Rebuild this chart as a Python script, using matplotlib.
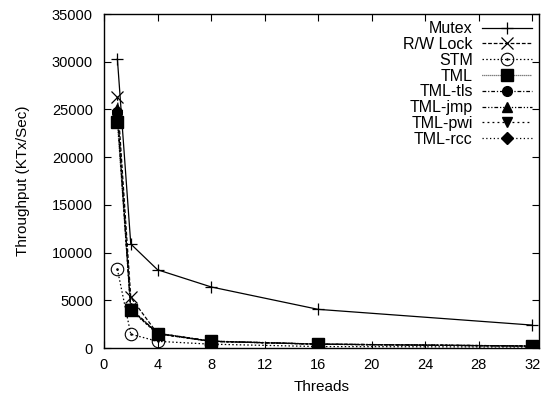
import matplotlib.pyplot as plt
import numpy as np
from matplotlib.path import Path

plt.rcParams['font.family'] = ['Liberation Sans', 'DejaVu Sans']
plt.rcParams['font.size'] = 10.5

threads = [1, 2, 4, 8, 16, 32]

mutex = [30300, 10900, 8200, 6400, 4050, 2400]
rwlock = [26300, 5300, 1500, 700, 400, 200]
stm = [8250, 1450, 700, 400, 150, 100]
tml = [23700, 4000, 1500, 700, 400, 200]
tml_tls = [24700, 4100, 1550, 720, 410, 210]
tml_jmp = [25000, 4150, 1550, 720, 410, 210]
tml_pwi = [24400, 4050, 1500, 700, 400, 200]
tml_rcc = [24200, 3950, 1480, 690, 390, 200]

# open circle with a dot in the middle (gnuplot style)
ring = Path.unit_circle()
dot = Path(Path.unit_circle().vertices * 0.12, Path.unit_circle().codes)
odot = Path.make_compound_path(ring, dot)

fig = plt.figure(figsize=(5.5, 3.98), dpi=100)
ax = fig.add_axes([104/550, 1-348/398, 435/550, 334/398])

lw = 0.9
ax.plot(threads, mutex, color='black', lw=lw, ls='-', marker='+', ms=9, mew=0.9, label='Mutex')
ax.plot(threads, rwlock, color='black', lw=lw, ls=(0, (3, 1.5)), marker='x', ms=8, mew=0.9, label='R/W Lock')
ax.plot(threads, stm, color='black', lw=lw, ls=(0, (1.2, 1.8)), marker=odot, ms=9, mew=0.8,
        mfc='none', label='STM')
ax.plot(threads, tml, color='black', lw=lw, ls=(0, (0.6, 1.0)), marker='s', ms=8, label='TML')
ax.plot(threads, tml_tls, color='black', lw=lw, ls=(0, (3, 1.5, 1, 1.5)), marker='o', ms=7, label='TML-tls')
ax.plot(threads, tml_jmp, color='black', lw=lw, ls=(0, (3, 1.5, 1, 1.5, 1, 1.5)), marker='^', ms=7, label='TML-jmp')
ax.plot(threads, tml_pwi, color='black', lw=lw, ls=(0, (1.5, 2.5)), marker='v', ms=7, label='TML-pwi')
ax.plot(threads, tml_rcc, color='black', lw=lw, ls=(0, (1, 2)), marker='D', ms=6, label='TML-rcc')

ax.set_xlim(0, 32.5)
ax.set_ylim(0, 35000)
ax.set_xticks(np.arange(0, 33, 4))
ax.set_yticks(np.arange(0, 35001, 5000))
ax.tick_params(direction='in', top=True, right=True, length=5, width=0.8)
ax.tick_params(axis='y', pad=8)
ax.tick_params(axis='x', pad=7)
for s in ax.spines.values():
    s.set_linewidth(1.0)

ax.set_xlabel('Threads', fontsize=11, labelpad=6)
ax.set_ylabel('Throughput (KTx/Sec)', fontsize=11, labelpad=16)

ax.legend(loc='upper right', bbox_to_anchor=(1, 1), frameon=False, markerfirst=False,
          fontsize=11.5, labelspacing=0.05, handlelength=3.1, handletextpad=0.6,
          borderpad=0.25, borderaxespad=0.2)

fig.savefig('out.png', dpi=100)
